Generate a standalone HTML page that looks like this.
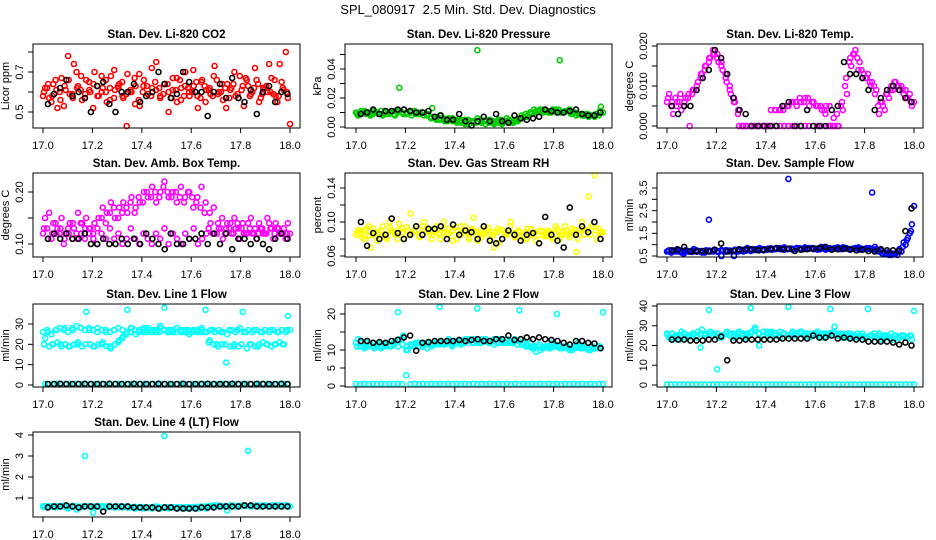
<!DOCTYPE html>
<html><head><meta charset="utf-8"><style>
html,body{margin:0;padding:0;background:#fff;}
svg{display:block;font-family:"Liberation Sans",Arial,sans-serif;}
</style></head><body>
<svg id="chart" width="936" height="540" viewBox="0 0 936 540" xmlns="http://www.w3.org/2000/svg">
<rect width="936" height="540" fill="#fff"/>
<text x="468" y="14" text-anchor="middle" font-size="13" xml:space="preserve" style="white-space:pre">SPL_080917  2.5 Min. Std. Dev. Diagnostics</text>
</svg>
<script>
const xTicks=[17.0,17.2,17.4,17.6,17.8,18.0];
const xTickLabels=["17.0","17.2","17.4","17.6","17.8","18.0"];
// Panel 1 CO2
const co2RedA=[0.58,0.62,0.55,0.66,0.60,0.53,0.78,0.59,0.70,0.61,0.57,0.65,0.52,0.63,0.68,0.60,0.56,0.71,0.62,0.58,0.43,0.60,0.54,0.69,0.63,0.59,0.72,0.61,0.57,0.64,0.60,0.67,0.55,0.62,0.70,0.58,0.63,0.52,0.66,0.61,0.59,0.73,0.60,0.56,0.64,0.62,0.58,0.68,0.53,0.63,0.60,0.66,0.57,0.62,0.74,0.59,0.55,0.65,0.80,0.44];
const co2RedB=[0.62,0.57,0.64,0.52,0.67,0.61,0.59,0.74,0.63,0.56,0.66,0.60,0.70,0.58,0.62,0.55,0.68,0.61,0.64,0.57,0.69,0.60,0.63,0.53,0.66,0.59,0.62,0.75,0.58,0.64,0.50,0.61,0.67,0.56,0.63,0.60,0.71,0.58,0.65,0.55,0.62,0.68,0.59,0.64,0.52,0.61,0.70,0.57,0.63,0.66,0.59,0.72,0.55,0.62,0.60,0.67,0.58,0.74,0.61,0.57];
const co2RedC=[0.60,0.64,0.58,0.61,0.56,0.63,0.66,0.57,0.62,0.68,0.59,0.61,0.64,0.58,0.60,0.66,0.62,0.57,0.63,0.65,0.59,0.61,0.67,0.56,0.60,0.63,0.58,0.65,0.62,0.59,0.64,0.57,0.61,0.66,0.58,0.62,0.60,0.65,0.57,0.63,0.61,0.58,0.66,0.60,0.62,0.57,0.64,0.59,0.61,0.67,0.58,0.62,0.64,0.59,0.63,0.60,0.66,0.58,0.62,0.60];
const co2Black=[0.54,0.59,0.62,0.66,0.58,0.60,0.57,0.50,0.63,0.65,0.54,0.50,0.60,0.60,0.64,0.55,0.58,0.60,0.70,0.64,0.57,0.59,0.70,0.65,0.60,0.60,0.48,0.60,0.64,0.57,0.67,0.57,0.55,0.61,0.49,0.60,0.63,0.55,0.60,0.59];
// Panel 2 pressure
const presA=[0.010,0.009,0.011,0.010,0.009,0.010,0.011,0.010,0.009,0.011,0.010,0.010,0.009,0.011,0.010,0.009,0.010,0.009,0.007,0.006,0.008,0.005,0.005,0.006,0.004,0.003,0.005,0.002,0.004,0.006,0.003,0.005,0.004,0.002,0.005,0.003,0.006,0.004,0.005,0.006,0.007,0.008,0.009,0.011,0.012,0.011,0.010,0.012,0.011,0.010,0.011,0.012,0.010,0.009,0.008,0.009,0.008,0.007,0.008,0.010];
const presB=[0.008,0.010,0.009,0.008,0.010,0.009,0.008,0.009,0.010,0.008,0.027,0.009,0.010,0.008,0.009,0.010,0.008,0.009,0.013,0.005,0.006,0.004,0.006,0.004,0.003,0.005,0.002,0.004,0.003,0.053,0.004,0.002,0.005,0.003,0.004,0.002,0.004,0.003,0.004,0.005,0.006,0.007,0.010,0.010,0.011,0.010,0.011,0.010,0.012,0.046,0.010,0.011,0.010,0.008,0.009,0.008,0.007,0.008,0.009,0.014];
const presC=[0.009,0.011,0.010,0.009,0.011,0.010,0.009,0.011,0.010,0.009,0.011,0.010,0.009,0.010,0.011,0.009,0.010,0.008,0.006,0.007,0.005,0.006,0.004,0.005,0.005,0.004,0.003,0.005,0.004,0.003,0.005,0.004,0.003,0.004,0.003,0.005,0.004,0.005,0.003,0.004,0.008,0.009,0.010,0.012,0.011,0.012,0.011,0.010,0.011,0.012,0.010,0.011,0.009,0.010,0.009,0.008,0.009,0.008,0.009,0.011];
const presBlack=[0.009,0.010,0.012,0.009,0.011,0.011,0.012,0.012,0.011,0.010,0.010,0.011,0.007,0.008,0.005,0.005,0.009,0.004,0.001,0.004,0.007,0.004,0.009,0.004,0.003,0.008,0.006,0.005,0.006,0.007,0.012,0.011,0.010,0.010,0.011,0.012,0.009,0.008,0.008,0.010];
// Panel 3 Li-820 temp
const tempA=[0.006,0.005,0.007,0.006,0.005,0.007,0.008,0.009,0.012,0.014,0.016,0.019,0.017,0.015,0.013,0.010,0.007,0.004,0,0,0,0,0,0,0,0,0.004,0.004,0.005,0.005,0.006,0.005,0.006,0.007,0.005,0.006,0.005,0.004,0.005,0,0,0,0.004,0.008,0.015,0.019,0.016,0.013,0.013,0.011,0.009,0.006,0.004,0.007,0.009,0.010,0.010,0.009,0.008,0.006];
const tempB=[0.008,0.003,0.006,0.004,0.007,0.000,0.009,0.011,0.013,0.015,0.017,0.018,0.016,0.014,0.011,0.008,0.006,0.000,0,0,0,0,0,0,0,0,0,0,0,0,0,0,0,0,0,0,0,0,0.003,0.005,0.002,0,0.006,0.012,0.017,0.018,0.014,0.012,0.012,0.010,0.008,0.003,0.005,0.008,0.010,0.011,0.009,0.008,0.007,0.005];
const tempC=[0.007,0.006,0.005,0.008,0.006,0.008,0.009,0.010,0.013,0.015,0.017,0.018,0.018,0.016,0.012,0.009,0.006,0.003,0,0,0,0,0,0,0,0.004,0.004,0.004,0.004,0.005,0.006,0.006,0.007,0.006,0.007,0.006,0.005,0.005,0.004,0,0,0.003,0.005,0.010,0.016,0.018,0.017,0.014,0.012,0.011,0.010,0.005,0.006,0.008,0.009,0.011,0.010,0.009,0.007,0.006];
const tempBlack=[0.005,0.003,0.005,0.005,0.009,0.012,0.014,0.019,0.017,0.013,0.007,0.004,0.003,0,0,0,0,0,0.005,0.006,0,0,0.004,0,0,0,0.004,0.005,0.016,0.013,0.013,0.012,0.009,0.004,0.007,0.009,0.010,0.009,0.007,0.006];
// Panel 4 box temp
const boxA=[0.12,0.13,0.11,0.14,0.12,0.10,0.13,0.11,0.12,0.14,0.11,0.13,0.12,0.10,0.12,0.11,0.13,0.11,0.12,0.10,0.11,0.13,0.11,0.10,0.12,0.11,0.10,0.12,0.11,0.13,0.10,0.12,0.11,0.10,0.12,0.11,0.13,0.10,0.11,0.12,0.14,0.12,0.13,0.11,0.14,0.12,0.13,0.11,0.12,0.14,0.12,0.11,0.13,0.12,0.14,0.11,0.13,0.12,0.11,0.12];
const boxB=[0.15,0.16,0.14,0.13,0.15,0.12,0.14,0.13,0.16,0.14,0.15,0.13,0.14,0.15,0.17,0.16,0.18,0.15,0.17,0.18,0.16,0.19,0.17,0.18,0.20,0.19,0.21,0.18,0.20,0.22,0.19,0.20,0.18,0.21,0.19,0.20,0.17,0.19,0.21,0.18,0.16,0.17,0.14,0.15,0.13,0.14,0.15,0.13,0.14,0.12,0.15,0.13,0.14,0.12,0.15,0.13,0.14,0.12,0.13,0.14];
const boxC=[0.13,0.11,0.12,0.12,0.13,0.11,0.12,0.14,0.11,0.12,0.13,0.12,0.11,0.13,0.15,0.14,0.16,0.17,0.15,0.16,0.17,0.18,0.16,0.19,0.18,0.20,0.19,0.20,0.19,0.21,0.20,0.19,0.20,0.19,0.18,0.20,0.19,0.18,0.17,0.16,0.13,0.12,0.12,0.13,0.12,0.13,0.12,0.14,0.13,0.12,0.13,0.12,0.12,0.13,0.12,0.13,0.12,0.13,0.12,0.12];
const boxBlack=[0.11,0.12,0.11,0.12,0.11,0.11,0.12,0.10,0.10,0.11,0.10,0.10,0.11,0.10,0.11,0.10,0.12,0.11,0.10,0.09,0.12,0.10,0.10,0.11,0.11,0.12,0.10,0.12,0.10,0.12,0.09,0.11,0.11,0.10,0.11,0.10,0.09,0.11,0.12,0.11];
// Panel 5 RH
const rhA=[0.085,0.09,0.08,0.095,0.085,0.078,0.09,0.082,0.1,0.088,0.08,0.092,0.085,0.11,0.09,0.083,0.095,0.088,0.08,0.092,0.087,0.1,0.085,0.09,0.08,0.095,0.088,0.082,0.09,0.078,0.086,0.092,0.08,0.088,0.075,0.09,0.085,0.1,0.082,0.088,0.08,0.092,0.085,0.078,0.09,0.083,0.088,0.08,0.092,0.085,0.095,0.082,0.088,0.08,0.1,0.09,0.085,0.155,0.092,0.088];
const rhB=[0.09,0.082,0.092,0.07,0.088,0.085,0.095,0.08,0.09,0.085,0.098,0.08,0.09,0.087,0.095,0.082,0.1,0.09,0.085,0.095,0.08,0.088,0.092,0.078,0.09,0.085,0.095,0.08,0.105,0.088,0.082,0.09,0.085,0.07,0.092,0.08,0.088,0.095,0.082,0.09,0.085,0.08,0.092,0.088,0.075,0.085,0.09,0.082,0.095,0.08,0.088,0.085,0.092,0.065,0.09,0.085,0.13,0.095,0.08,0.088];
const rhC=[0.088,0.086,0.09,0.084,0.092,0.087,0.089,0.085,0.093,0.086,0.09,0.088,0.094,0.085,0.089,0.091,0.086,0.093,0.088,0.09,0.085,0.092,0.087,0.089,0.094,0.086,0.09,0.088,0.092,0.085,0.09,0.087,0.093,0.084,0.088,0.091,0.086,0.089,0.087,0.083,0.086,0.088,0.084,0.087,0.085,0.089,0.084,0.088,0.086,0.09,0.085,0.089,0.087,0.091,0.086,0.092,0.088,0.095,0.09,0.087];
const rhBlack=[0.1,0.072,0.087,0.08,0.085,0.104,0.087,0.08,0.085,0.095,0.085,0.092,0.092,0.095,0.08,0.097,0.085,0.09,0.088,0.08,0.095,0.078,0.075,0.08,0.09,0.085,0.078,0.085,0.087,0.075,0.106,0.085,0.078,0.07,0.117,0.085,0.095,0.088,0.1,0.08];
// Panel 6 sample flow
const sfA=[0.7,0.65,0.75,0.7,0.6,0.72,0.68,0.75,0.7,0.65,2.1,0.72,0.7,0.5,0.75,0.72,0.5,0.7,0.75,0.8,0.72,0.78,0.75,0.8,0.78,0.82,0.8,0.85,0.78,3.9,0.8,0.85,0.78,0.82,0.85,0.8,0.78,0.85,0.82,0.8,0.85,0.8,0.88,0.82,0.8,0.85,0.78,0.8,0.82,3.3,0.8,0.75,0.65,0.55,0.6,0.55,0.7,1.0,1.5,2.7];
const sfB=[0.75,0.7,0.8,0.65,0.75,0.7,0.8,0.72,0.65,0.75,0.7,0.78,0.68,0.72,0.75,0.7,0.78,0.8,0.7,0.85,0.78,0.8,0.85,0.75,0.82,0.78,0.85,0.8,0.88,0.82,0.78,0.85,0.8,0.88,0.82,0.85,0.8,0.9,0.78,0.85,0.82,0.88,0.8,0.85,0.78,0.82,0.88,0.8,0.85,0.8,0.9,0.7,0.6,0.65,0.55,0.6,0.8,1.1,1.3,1.9];
const sfC=[0.72,0.68,0.7,0.74,0.68,0.7,0.73,0.69,0.72,0.7,0.74,0.7,0.72,0.76,0.7,0.74,0.72,0.76,0.78,0.74,0.8,0.76,0.8,0.78,0.8,0.84,0.8,0.82,0.84,0.8,0.83,0.8,0.84,0.8,0.82,0.84,0.82,0.8,0.84,0.82,0.8,0.84,0.82,0.85,0.8,0.82,0.84,0.82,0.8,0.84,0.78,0.72,0.62,0.58,0.62,0.6,0.75,0.9,1.2,1.6];
const sfBlack=[0.75,0.78,0.9,0.7,0.7,0.72,0.7,0.78,1.05,0.7,0.72,0.78,0.8,0.8,0.75,0.78,0.8,0.85,0.8,0.82,0.72,0.78,0.8,0.82,0.85,0.9,0.78,0.8,0.82,0.8,0.75,0.78,0.72,0.7,0.8,0.75,0.75,0.72,1.6,2.6];
// Panel 7 Line 1
const l1A=[26,27,25,27,28,27,26,28,29,28,27,28,27,26,27,27,26,27,28,27,26,28,27,26,28,27,26,27,28,27,26,27,28,26,27,26,27,26,27,26,27,26,27,26,25,27,26,28,26,27,26,27,26,27,26,27,26,27,26,27];
const l1B=[23,19,20,21,19,20,19,20,21,19,36,20,19,20,21,19,18,20,22,24,37,28,25,27,26,28,27,26,29,38,27,26,28,27,26,25,27,26,28,37,22,20,19,20,11,19,20,19,36,18,20,19,20,21,20,19,20,21,20,34];
const l1C=[20,26,20,27,20,28,19,27,20,28,20,27,19,28,20,26,19,27,21,23,25,26,27,26,27,26,27,27,26,27,26,27,26,27,26,27,26,27,26,26,21,27,20,26,20,27,19,27,20,26,20,27,19,26,20,27,20,26,20,27];
const l1Zero=[0.5,0.4,0.5,0.6,0.5,0.4,0.5,0.5,0.6,0.5,0.4,0.5,0.5,0.6,0.5,0.4,0.5,0.5,0.6,0.5,0.4,0.5,0.5,0.6,0.5,0.4,0.5,0.5,0.6,0.5,0.5,0.4,0.5,0.6,0.5,0.4,0.5,0.5,0.6,0.5,0.4,0.5,0.5,0.6,0.5,0.4,0.5,0.5,0.6,0.5,0.4,0.5,0.5,0.6,0.5,0.4,0.5,0.5,0.6,0.5];
const l1Black=[0.5,0.5,0.6,0.5,0.5,0.5,0.6,0.5,0.5,0.5,0.6,0.5,0.5,0.5,0.6,0.5,0.5,0.5,0.6,0.5,0.5,0.5,0.6,0.5,0.5,0.5,0.6,0.5,0.5,0.5,0.6,0.5,0.5,0.5,0.6,0.5,0.5,0.5,0.6,0.5];
// Panel 8 Line 2
const l2A=[12,11,10.5,11,12,11,10.5,11,11.5,12,20.5,13,10,11,11,12,11,10.5,11,11.5,22,12,12.5,11,12,11.5,12,13,12,21.5,12,13,12,11.5,13,12,13,12,12.5,21,12,11,10.5,9.5,10,11,10.5,11,20,10.5,11,10,11,12,10.5,11,10,10.5,11,20.5];
const l2B=[13,11,12,11.5,10.5,12,11,12,11,12.5,13,14,10,11.5,12,11,12,11.5,12,12,12,11.5,13,12,12.5,12,13,12.5,13,12,13,12.5,12,13,12,13,12,12.5,13,12.5,12,11.5,12,11,11.5,10.5,11,12,11.5,10.5,11,10.5,10,11,10.5,11,10,11,10.5,10.5];
const l2C=[11,12,11,11.5,11,11.5,11,11.5,11,11.5,11,11.5,11,11.5,11.5,11,11.5,12,11.5,12,11.5,12,12,11.5,12,12.5,12,12.5,12,12.5,12,12.5,12,12.5,12,12.5,12,12,12,11.5,11.5,11,11,10.5,11,10.5,11,10.5,11,11,10.5,11,10.5,10.5,11,10.5,10.5,11,10.5,11];
const l2Zero=[0.6,0.5,0.6,0.5,0.6,0.5,0.6,0.5,0.6,0.5,0.6,0.5,3,0.5,0.6,0.5,0.6,0.5,0.6,0.5,0.6,0.5,0.6,0.5,0.6,0.5,0.6,0.5,0.6,0.5,0.6,0.5,0.6,0.5,0.6,0.5,0.6,0.5,0.6,0.5,0.6,0.5,0.6,0.5,0.6,0.5,0.6,0.5,0.6,0.5,0.6,0.5,0.6,0.5,0.6,0.5,0.6,0.5,0.6,0.5];
const l2Black=[12.5,12.5,12,12.2,12,12.5,12.8,13.5,14,9.8,12,12.2,12.5,12.5,12.5,12.5,12.8,12.5,12.8,13,12.5,12.5,13,13,14,12.8,13,13.5,13,13.5,13,12.8,12.5,12,11.5,12.5,12.5,12,11.8,10.5];
// Panel 9 Line 3
const l3A=[26,24,25,23,26,24,25,24,19,26,38,25,8,24,26,25,24,26,25,24,39,29,20,25,27,26,25,24,26,39.5,25,26,27,25,24,26,25,24,26,38.5,29.5,25,24,26,25,24,25,24,38.5,25,24,23,25,24,23,24,25,24,25,37.5];
const l3B=[24,23,25,27,24,25,26,27,28,26,27,26,24,25,27,26,25,27,26,26,27,28,26,27,26,27,26,27,26,25,27,26,27,26,25,26,27,26,25,26,27,26,25,24,26,25,24,26,24,25,24,26,25,24,26,25,24,25,24,23];
const l3C=[25,26,24,25,26,25,26,25,26,25,26,25,26,25,26,25,26,25,26,25,26,25,26,25,26,25,26,25,26,25,26,25,26,25,26,25,26,25,26,25,26,25,26,25,24,25,26,25,24,25,26,25,24,25,24,25,24,25,24,25];
const l3Zero=[0.3,0.2,0.3,0.2,0.3,0.2,0.3,0.2,0.3,0.2,0.3,0.2,0.3,0.2,0.3,0.2,0.3,0.2,0.3,0.2,0.3,0.2,0.3,0.2,0.3,0.2,0.3,0.2,0.3,0.2,0.3,0.2,0.3,0.2,0.3,0.2,0.3,0.2,0.3,0.2,0.3,0.2,0.3,0.2,0.3,0.2,0.3,0.2,0.3,0.2,0.3,0.2,0.3,0.2,0.3,0.2,0.3,0.2,0.3,0.2];
const l3Black=[23,23,23,22.5,22.5,22.5,23,23,24.5,12.5,22.5,22.5,23,23,23,23,23,23,23.5,23.5,23.5,23.5,23.5,25,24,24,25,23.5,24,23.5,23,23,22,22,22,22,21.5,20.5,21.5,20];
// Panel 10 Line 4
const l4A=[0.6,0.55,0.6,0.55,0.6,0.65,0.5,0.6,0.45,0.55,3.0,0.6,0.3,0.6,0.55,0.6,0.6,0.55,0.6,0.55,0.6,0.55,0.5,0.55,0.5,0.55,0.5,0.6,0.5,3.95,0.5,0.55,0.5,0.55,0.5,0.5,0.55,0.5,0.55,0.5,0.6,0.65,0.6,0.6,0.4,0.65,0.6,0.6,0.65,3.25,0.6,0.65,0.6,0.65,0.6,0.65,0.6,0.6,0.65,0.6];
const l4B=[0.62,0.6,0.58,0.62,0.6,0.58,0.6,0.62,0.58,0.6,0.62,0.58,0.6,0.6,0.58,0.56,0.6,0.58,0.56,0.58,0.55,0.57,0.55,0.56,0.55,0.54,0.56,0.55,0.54,0.55,0.54,0.56,0.55,0.54,0.56,0.55,0.54,0.56,0.58,0.6,0.62,0.6,0.64,0.62,0.6,0.64,0.62,0.63,0.64,0.62,0.64,0.63,0.62,0.64,0.62,0.63,0.64,0.62,0.63,0.62];
const l4C=[0.58,0.62,0.6,0.58,0.62,0.6,0.58,0.62,0.6,0.58,0.6,0.62,0.58,0.6,0.62,0.58,0.6,0.58,0.6,0.57,0.58,0.55,0.58,0.55,0.57,0.56,0.54,0.57,0.56,0.55,0.57,0.54,0.56,0.57,0.54,0.56,0.57,0.55,0.6,0.58,0.6,0.63,0.61,0.63,0.62,0.6,0.63,0.61,0.62,0.64,0.61,0.62,0.64,0.61,0.63,0.62,0.61,0.64,0.61,0.64];
const l4Black=[0.55,0.6,0.6,0.65,0.6,0.55,0.6,0.6,0.6,0.35,0.6,0.6,0.6,0.6,0.55,0.55,0.55,0.55,0.5,0.55,0.55,0.5,0.5,0.5,0.5,0.55,0.55,0.55,0.6,0.6,0.6,0.6,0.65,0.65,0.6,0.6,0.6,0.6,0.6,0.6];

const panels=[
 {name:"co2",title:"Stan. Dev. Li-820 CO2",ylab:"Licor ppm",box:[33,300,44,128],xp:[43,290],ya:[0.5,112],yb:[0.7,72],ticks:[0.5,0.6,0.7,0.8],labels:[[0.5,"0.5"],[0.7,"0.7"]],series:[[co2RedA,"#ff0000",0],[co2RedB,"#ff0000",1],[co2RedC,"#ff0000",3],[co2Black,"#000",2]]},
 {name:"pressure",title:"Stan. Dev. Li-820 Pressure",ylab:"kPa",box:[345,612,44,128],xp:[356,603],ya:[0,127],yb:[0.04,69],ticks:[0,0.01,0.02,0.03,0.04,0.05],labels:[[0,"0.00"],[0.02,"0.02"],[0.04,"0.04"]],series:[[presA,"#00cd00",0],[presB,"#00cd00",1],[presC,"#00cd00",3],[presBlack,"#000",2]]},
 {name:"li820-temp",title:"Stan. Dev. Li-820 Temp.",ylab:"degrees C",box:[657,923,44,128],xp:[667,914],ya:[0,126],yb:[0.02,46],ticks:[0,0.005,0.01,0.015,0.02],labels:[[0,"0.000"],[0.01,"0.010"],[0.02,"0.020"]],series:[[tempA,"#ff00ff",0],[tempB,"#ff00ff",1],[tempC,"#ff00ff",3],[tempBlack,"#000",2]]},
 {name:"box-temp",title:"Stan. Dev. Amb. Box Temp.",ylab:"degrees C",box:[33,300,173,257],xp:[43,290],ya:[0.10,244],yb:[0.20,192],ticks:[0.10,0.15,0.20],labels:[[0.10,"0.10"],[0.20,"0.20"]],series:[[boxA,"#ff00ff",0],[boxB,"#ff00ff",1],[boxC,"#ff00ff",3],[boxBlack,"#000",2]]},
 {name:"gas-rh",title:"Stan. Dev. Gas Stream RH",ylab:"percent",box:[345,612,173,257],xp:[356,603],ya:[0.06,256],yb:[0.14,188],ticks:[0.06,0.08,0.10,0.12,0.14],labels:[[0.06,"0.06"],[0.10,"0.10"],[0.14,"0.14"]],series:[[rhA,"#ffff00",0],[rhB,"#ffff00",1],[rhC,"#ffff00",3],[rhBlack,"#000",2]]},
 {name:"sample-flow",title:"Stan. Dev. Sample Flow",ylab:"ml/min",box:[657,923,173,257],xp:[667,914],ya:[0.5,256],yb:[3.5,188],ticks:[0.5,1,1.5,2,2.5,3,3.5],labels:[[0.5,"0.5"],[1.5,"1.5"],[2.5,"2.5"],[3.5,"3.5"]],series:[[sfA,"#0000ff",0],[sfB,"#0000ff",1],[sfC,"#0000ff",3],[sfBlack,"#000",2]]},
 {name:"line1-flow",title:"Stan. Dev. Line 1 Flow",ylab:"ml/min",box:[33,300,304,387],xp:[43,290],ya:[0,385],yb:[30,324],ticks:[0,10,20,30],labels:[[0,"0"],[10,"10"],[20,"20"],[30,"30"]],series:[[l1A,"#00ffff",0],[l1B,"#00ffff",1],[l1C,"#00ffff",3],[l1Zero,"#00ffff",1],[l1Black,"#000",2]]},
 {name:"line2-flow",title:"Stan. Dev. Line 2 Flow",ylab:"ml/min",box:[345,612,304,387],xp:[356,603],ya:[0,386],yb:[20,314],ticks:[0,5,10,15,20],labels:[[0,"0"],[5,"5"],[10,"10"],[20,"20"]],series:[[l2A,"#00ffff",0],[l2B,"#00ffff",1],[l2C,"#00ffff",3],[l2Zero,"#00ffff",0],[l2Black,"#000",2]]},
 {name:"line3-flow",title:"Stan. Dev. Line 3 Flow",ylab:"ml/min",box:[657,923,304,387],xp:[667,914],ya:[0,385],yb:[40,306],ticks:[0,10,20,30,40],labels:[[0,"0"],[10,"10"],[20,"20"],[30,"30"],[40,"40"]],series:[[l3A,"#00ffff",0],[l3B,"#00ffff",1],[l3C,"#00ffff",3],[l3Zero,"#00ffff",0],[l3Black,"#000",2]]},
 {name:"line4-flow",title:"Stan. Dev. Line 4 (LT) Flow",ylab:"ml/min",box:[33,300,432,517],xp:[43,290],ya:[1,498],yb:[4,435],ticks:[1,2,3,4],labels:[[1,"1"],[2,"2"],[3,"3"],[4,"4"]],series:[[l4A,"#00ffff",0],[l4B,"#00ffff",1],[l4C,"#00ffff",3],[l4Black,"#000",2]]}
];
const NS="http://www.w3.org/2000/svg";
const svg=document.getElementById("chart");
function mk(tag,attrs,parent){const e=document.createElementNS(NS,tag);for(const k in attrs)e.setAttribute(k,attrs[k]);(parent||svg).appendChild(e);return e;}
panels.forEach(p=>{
 const g=mk("g",{});
 
 
 const [l,r,t,b]=p.box;
 const xs=v=>p.xp[0]+(v-17)*(p.xp[1]-p.xp[0]);
 const ys=v=>p.ya[1]+(v-p.ya[0])*(p.yb[1]-p.ya[1])/(p.yb[0]-p.ya[0]);
 const tt=mk("text",{x:(l+r)/2,y:t-6,"text-anchor":"middle","font-size":"11.5","font-weight":"bold"},g);tt.textContent=p.title;
 
 
 const pts=mk("g",{fill:"none","stroke-width":"1.6"},g);
 
 
 p.series.forEach(([arr,col,mode])=>{
  const n=arr.length;
  arr.forEach((v,i)=>{
   let x;
   if(mode===0) x=17+i/(n-1);
   else if(mode===1) x=17+(i+0.5)/(n);
   else if(mode===3) x=17+(i+0.25)/(n);
   else x=17.02+i*(0.97/(n-1));
   const c=mk("circle",{cx:xs(x).toFixed(1),cy:ys(v).toFixed(1),r:"2.5",stroke:col},pts);
   
   
  });
 });
 const bx=mk("rect",{x:l,y:t,width:r-l,height:b-t,fill:"none",stroke:"#000","stroke-width":"1"},g);
 
 
 const xa=mk("g",{},g);
 
 
 mk("line",{x1:xs(17),x2:xs(18),y1:b,y2:b,stroke:"#000"},xa);
 xTicks.forEach((v,i)=>{
  mk("line",{x1:xs(v),x2:xs(v),y1:b,y2:b+5,stroke:"#000"},xa);
  const tx=mk("text",{x:xs(v),y:b+21,"text-anchor":"middle","font-size":"11"},xa);tx.textContent=xTickLabels[i];
 });
 const ya=mk("g",{},g);
 
 
 p.ticks.forEach(v=>{mk("line",{x1:l-5,x2:l,y1:ys(v),y2:ys(v),stroke:"#000"},ya);});
 p.labels.forEach(([v,s])=>{
  const yy=ys(v);
  const tx=mk("text",{x:l-10,y:yy,"text-anchor":"middle","font-size":"11",transform:`rotate(-90 ${l-10} ${yy})`},ya);tx.textContent=s;
 });
 const yl=mk("text",{x:l-24,y:(t+b)/2,"text-anchor":"middle","font-size":"11",transform:`rotate(-90 ${l-24} ${(t+b)/2})`},g);yl.textContent=p.ylab;
 
 
});
</script>
</body></html>
